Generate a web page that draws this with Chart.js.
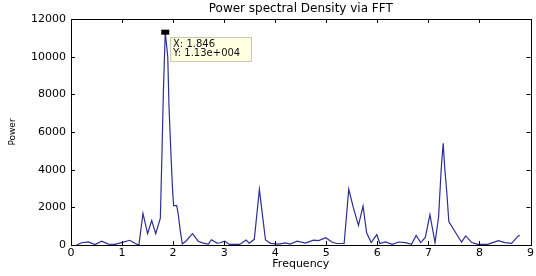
<!DOCTYPE html>
<html>
<head>
<meta charset="utf-8">
<script src="https://cdn.jsdelivr.net/npm/chart.js@4/dist/chart.umd.min.js"></script>
<style>
  html, body { margin: 0; padding: 0; background: #fff; }
  #wrap { width: 536px; height: 276px; }
</style>
</head>
<body>
<div id="wrap"><canvas id="psd-chart" width="536" height="276"></canvas></div>
<script>
const frequency = [
  0.11, 0.21, 0.34, 0.47, 0.60, 0.73, 0.86, 0.99, 1.15, 1.25,
  1.33, 1.41, 1.50, 1.58, 1.66, 1.75, 1.78, 1.81, 1.846, 1.895,
  1.92, 1.96, 1.99, 2.01, 2.07, 2.10, 2.14, 2.18, 2.25, 2.38,
  2.49, 2.59, 2.69, 2.75, 2.86, 2.92, 3.01, 3.10, 3.30, 3.43,
  3.49, 3.59, 3.69, 3.76, 3.81, 3.91, 4.07, 4.20, 4.29, 4.43,
  4.59, 4.75, 4.85, 4.99, 5.11, 5.20, 5.35, 5.44, 5.53, 5.63,
  5.72, 5.79, 5.88, 5.99, 6.05, 6.16, 6.29, 6.42, 6.55, 6.67,
  6.76, 6.85, 6.94, 7.03, 7.13, 7.20, 7.25, 7.29, 7.32, 7.36,
  7.40, 7.49, 7.58, 7.65, 7.73, 7.85, 7.97, 8.16, 8.37, 8.50,
  8.63, 8.76, 8.79
];
const power = [
  0, 120, 160, 20, 200, 50, 30, 130, 250, 90,
  0, 1680, 600, 1300, 600, 1420, 4670, 8200, 11300, 10000,
  7330, 4670, 2880, 2090, 2090, 1650, 760, 60, 200, 600,
  200, 100, 50, 280, 100, 120, 200, 30, 30, 260,
  100, 300, 2950, 1360, 265, 90, 50, 110, 50, 200,
  100, 260, 230, 390, 160, 80, 80, 2960, 1980, 1045,
  2070, 650, 130, 550, 80, 160, 40, 160, 130, 40,
  510, 130, 400, 1610, 130, 1500, 4000, 5400, 4090, 2830,
  1240, 850, 450, 150, 480, 130, 30, 30, 230, 130,
  90, 480, 510
];
const xTicks = [0, 1, 2, 3, 4, 5, 6, 7, 8, 9];
const yTicks = [0, 2000, 4000, 6000, 8000, 10000, 12000];

// data cursor shown on the main peak
const tipX = 1.846;
const tipY = 11300;
const tipLines = ["X: 1.846", "Y: 1.13e+004"];

const fontFamily = "'DejaVu Sans', Arial, sans-serif";

const matlabFrame = {
  id: "matlabFrame",
  afterDatasetsDraw(chart) {
    const { ctx, chartArea: a, scales } = chart;
    const xs = scales.x;
    const ys = scales.y;
    const len = 4;

    ctx.save();
    ctx.strokeStyle = "#000";
    ctx.lineWidth = 1;
    ctx.beginPath();
    for (const v of xTicks) {
      const px = Math.round(xs.getPixelForValue(v)) + 0.5;
      ctx.moveTo(px, a.bottom);
      ctx.lineTo(px, a.bottom - len);
      ctx.moveTo(px, a.top);
      ctx.lineTo(px, a.top + len);
    }
    for (const v of yTicks) {
      const py = Math.round(ys.getPixelForValue(v)) + 0.5;
      ctx.moveTo(a.left, py);
      ctx.lineTo(a.left + len, py);
      ctx.moveTo(a.right, py);
      ctx.lineTo(a.right - len, py);
    }
    ctx.stroke();
    ctx.strokeRect(Math.round(a.left) + 0.5, Math.round(a.top) + 0.5,
      Math.round(a.right - a.left), Math.round(a.bottom - a.top));

    // datatip
    const px = xs.getPixelForValue(tipX);
    const py = ys.getPixelForValue(tipY);
    ctx.fillStyle = "#000";
    ctx.fillRect(px - 4, py - 2.5, 8, 5);

    const bx = Math.round(px + 5) + 0.5;
    const by = Math.round(py + 5) + 0.5;
    ctx.fillStyle = "#ffffe1";
    ctx.strokeStyle = "#c9c9b0";
    ctx.fillRect(bx, by, 81, 24);
    ctx.strokeRect(bx, by, 81, 24);
    ctx.fillStyle = "#111";
    ctx.font = "10px " + fontFamily;
    ctx.textBaseline = "middle";
    ctx.fillText(tipLines[0], bx + 2.5, by + 6.5);
    ctx.fillText(tipLines[1], bx + 2.5, by + 15.5);
    ctx.restore();
  },
};

new Chart(document.getElementById("psd-chart"), {
  type: "scatter",
  data: {
    datasets: [
      {
        label: "Power",
        data: frequency.map((f, i) => ({ x: f, y: power[i] })),
        showLine: true,
        borderColor: "#2d2d96",
        borderWidth: 1.2,
        pointRadius: 0,
        tension: 0,
      },
    ],
  },
  options: {
    responsive: false,
    animation: false,
    devicePixelRatio: 1,
    layout: { padding: { left: 0, right: 4, top: 0, bottom: 0 } },
    plugins: {
      legend: { display: false },
      tooltip: { enabled: false },
      title: {
        display: true,
        text: "Power spectral Density via FFT",
        fullSize: false,
        color: "#000",
        font: { family: fontFamily, size: 12, weight: "normal" },
        padding: { top: 2, bottom: 2.6 },
      },
    },
    scales: {
      x: {
        type: "linear",
        min: 0,
        max: 9,
        afterFit(scale) {
          scale.height = 31;
        },
        afterBuildTicks(scale) {
          scale.ticks = xTicks.map((v) => ({ value: v }));
        },
        grid: { display: false, drawTicks: false },
        border: { display: false },
        ticks: {
          color: "#000",
          padding: 2,
          maxRotation: 0,
          font: { family: fontFamily, size: 11 },
        },
        title: {
          display: true,
          text: "Frequency",
          color: "#000",
          font: { family: fontFamily, size: 11 },
          padding: { top: 0, bottom: 5 },
        },
      },
      y: {
        min: 0,
        max: 12000,
        afterFit(scale) {
          scale.width = 71;
        },
        afterBuildTicks(scale) {
          scale.ticks = yTicks.map((v) => ({ value: v }));
        },
        grid: { display: false, drawTicks: false },
        border: { display: false },
        ticks: {
          color: "#000",
          padding: 5,
          font: { family: fontFamily, size: 11 },
          callback(value) {
            return String(value);
          },
        },
        title: {
          display: true,
          text: "Power",
          color: "#000",
          font: { family: fontFamily, size: 9 },
          padding: { top: 7, bottom: 0 },
        },
      },
    },
  },
  plugins: [matlabFrame],
});
</script>
</body>
</html>
